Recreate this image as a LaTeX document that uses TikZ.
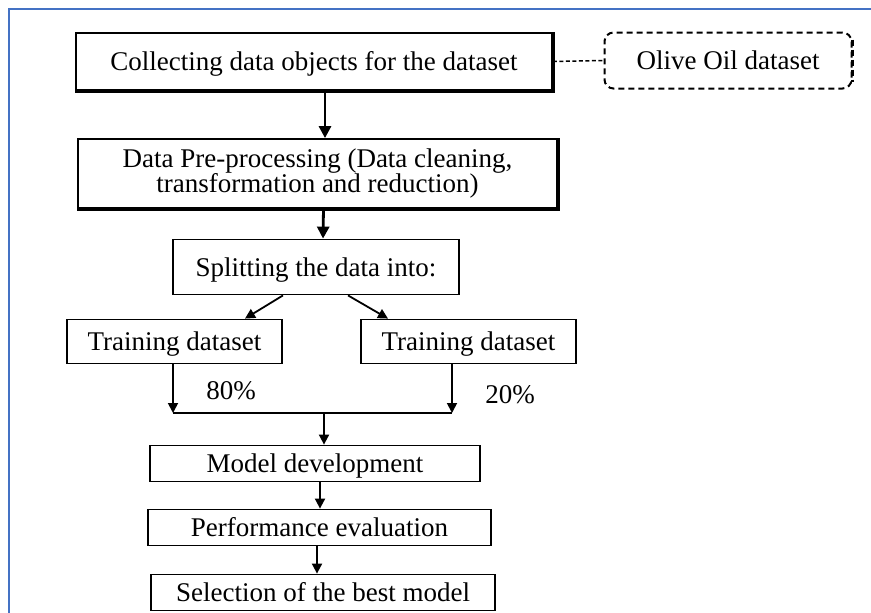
\documentclass[tikz,border=0pt]{standalone}
\usepackage{fontspec}
\setmainfont{Liberation Serif}
\usetikzlibrary{arrows.meta}
\definecolor{frameblue}{RGB}{68,114,196}
\begin{document}
\begin{tikzpicture}[x=1pt,y=-1pt,
  every node/.style={font=\fontsize{27}{25}\selectfont, inner sep=0pt},
  plainbox/.style={draw, line width=1.8pt},
  stepbox/.style={plainbox, text height=18pt, text depth=0pt},
  oilbox/.style={draw, line width=2pt, rounded corners=9pt, dash pattern=on 6pt off 4pt, text height=18pt, text depth=0pt},
  pct/.style={text height=18pt, text depth=0pt},
  arr/.style={line width=1.8pt, -{Triangle[length=10pt,width=10pt]}},
  thickarr/.style={line width=2.8pt, -{Triangle[length=12pt,width=12pt]}},
  link/.style={line width=1.5pt, dash pattern=on 4pt off 2.5pt}
]
\fill[white] (0,0) rectangle (871,613);
\useasboundingbox (0,0) rectangle (871,613);
\draw[frameblue, line width=2.5pt] (9,614) -- (9,9) -- (872,9);

\node[stepbox, minimum width=476pt, minimum height=57pt] (collect) at (314,61.5) {Collecting data objects for the dataset};
\draw[line width=3.2pt] (collect.north east) -- (collect.south east) -- (collect.south west);
\node[oilbox, minimum width=247pt, minimum height=56pt] (oil) at (728,60.5) {Olive Oil dataset};
\draw[line width=3.2pt, dash pattern=on 6pt off 4pt] ([yshift=-8pt]oil.north east) -- ([yshift=8pt]oil.south east);

\node[plainbox, minimum width=479pt, minimum height=69pt, align=center] (prep) at (317.5,173.5)
  {Data Pre-processing (Data cleaning,\\transformation and reduction)};
\draw[line width=3.2pt] (prep.north east) -- (prep.south east) -- (prep.south west);

\node[stepbox, minimum width=286pt, minimum height=55pt] (split) at (316,267) {Splitting the data into:};
\node[stepbox, minimum width=215pt, minimum height=44pt] (trainL) at (174.5,341.5) {Training dataset};
\node[stepbox, minimum width=215pt, minimum height=44pt] (trainR) at (468.5,341.5) {Training dataset};

\node[pct] (p80) at (231,390.5) {80\%};
\node[pct] (p20) at (510,394.5) {20\%};

\coordinate (jl) at (173,413);
\coordinate (jr) at (452,413);
\coordinate (jc) at (324,413);

\node[stepbox, minimum width=330pt, minimum height=36pt] (model) at (315,463.5) {Model development};
\node[stepbox, minimum width=343pt, minimum height=36pt] (perf) at (319.5,527.5) {Performance evaluation};
\node[stepbox, minimum width=344pt, minimum height=36pt] (best) at (323,592.5) {Selection of the best model};

\draw[link] (collect.east) -- (oil.west);
\draw[thickarr] ([xshift=11pt]collect.south) -- ([xshift=7.5pt]prep.north);
\draw[thickarr] ([xshift=6pt]prep.south) -- ([xshift=7pt]split.north);
\draw[arr] ([xshift=-33pt]split.south) -- ([xshift=70.5pt]trainL.north);
\draw[arr] ([xshift=32pt]split.south) -- ([xshift=-80.5pt]trainR.north);
\draw[arr] (trainL.south -| jl) -- (jl);
\draw[arr] (trainR.south -| jr) -- (jr);
\draw[line width=1.8pt] (jl) -- (jr);
\draw[arr] (jc) -- (model.north -| jc);
\draw[arr] ([xshift=5pt]model.south) -- ([xshift=0.5pt]perf.north);
\draw[arr] ([xshift=-2.5pt]perf.south) -- ([xshift=-6pt]best.north);
\end{tikzpicture}
\end{document}
